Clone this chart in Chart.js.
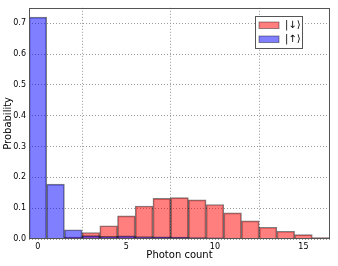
<!DOCTYPE html>
<html><head><meta charset="utf-8">
<script src="https://cdn.jsdelivr.net/npm/chart.js@4"></script>
<style>html,body{margin:0;padding:0;background:#fff}#wrap{width:338px;height:266px}</style>
</head><body><div id="wrap"><canvas id="c" width="338" height="266"></canvas></div>
<script>
const photonCounts = [0,1,2,3,4,5,6,7,8,9,10,11,12,13,14,15,16];
const downProb = [0,0,0.006,0.021,0.043,0.075,0.107,0.132,0.134,0.127,0.112,0.085,0.059,0.038,0.025,0.014,0.005];
const upProb = [0.72,0.178,0.030,0.011,0.009,0.010,0.008,0.007,0.006,0.005,0.004,0.003,0.002,0.001,0.001,0.0005,0];
const seriesLabels = ['|\u2193\u27E9','|\u2191\u27E9'];
const xTicks = [0,5,10,15];
const yTicks = [0,0.1,0.2,0.3,0.4,0.5,0.6,0.7];

const frame = {
  id:'frame',
  afterDatasetsDraw(chart){
    const {ctx, chartArea:a} = chart;
    ctx.save();
    ctx.strokeStyle='#555'; ctx.lineWidth=1;
    ctx.strokeRect(Math.round(a.left)+0.5, Math.round(a.top)+0.5, Math.round(a.right-a.left)-1, Math.round(a.bottom-a.top)-1);
    // legend
    const x0=255.5, y0=16.5, w=47, h=32;
    ctx.fillStyle='#fff'; ctx.fillRect(x0,y0,w,h);
    ctx.strokeStyle='#555'; ctx.strokeRect(x0,y0,w,h);
    chart.data.datasets.forEach((ds,i)=>{
      const yy = 22 + i*14;
      ctx.fillStyle=ds.backgroundColor; ctx.fillRect(259,yy,20,6.5);
      ctx.strokeStyle='rgba(0,0,0,0.4)'; ctx.strokeRect(259,yy,20,6.5);
      ctx.fillStyle='#000'; ctx.font='10px "DejaVu Sans"'; ctx.textBaseline='middle'; ctx.textAlign='left';
      ctx.fillText(ds.label, 285, yy+3.5);
    });
    ctx.restore();
  }
};

new Chart(document.getElementById('c'), {
  type:'bar',
  data:{
    datasets:[
      {label:seriesLabels[0], data:photonCounts.map((x,i)=>({x, y:downProb[i]})), backgroundColor:'rgba(255,0,0,0.5)', borderColor:'rgba(0,0,0,0.5)', borderWidth:1, order:1, grouped:false, barPercentage:1, categoryPercentage:1},
      {label:seriesLabels[1], data:photonCounts.map((x,i)=>({x, y:upProb[i]})), backgroundColor:'rgba(0,0,255,0.5)', borderColor:'rgba(0,0,0,0.5)', borderWidth:1, order:0, grouped:false, barPercentage:1, categoryPercentage:1}
    ]
  },
  options:{
    responsive:false, animation:false,
    layout:{padding:{top:6,right:8,left:2,bottom:5}},
    plugins:{legend:{display:false}, tooltip:{enabled:false}},
    scales:{
      x:{type:'linear', min:-0.5, max:16.5, offset:false,
        afterBuildTicks(s){ s.ticks = xTicks.map(v=>({value:v})); },
        afterFit(s){ s.height = 22; },
        grid:{color:'#999', drawTicks:false, lineWidth:1},
        border:{display:false, dash:[1,2]},
        ticks:{color:'#000', font:{family:'DejaVu Sans', size:8}, padding:3, maxRotation:0, callback:v=>String(v)},
        title:{display:true, text:'Photon count', color:'#000', font:{family:'DejaVu Sans', size:10}, padding:{top:0,bottom:0}}
      },
      y:{min:0, max:0.75,
        afterBuildTicks(s){ s.ticks = yTicks.map(v=>({value:v})); },
        afterFit(s){ s.width = 27; },
        grid:{color:'#999', drawTicks:false, lineWidth:1},
        border:{display:false, dash:[1,2]},
        ticks:{color:'#000', font:{family:'DejaVu Sans', size:8}, padding:3, callback:v=>v.toFixed(1)},
        title:{display:true, text:'Probability', color:'#000', font:{family:'DejaVu Sans', size:10}, padding:{top:0,bottom:0}}
      }
    }
  },
  plugins:[frame]
});
</script></body></html>
